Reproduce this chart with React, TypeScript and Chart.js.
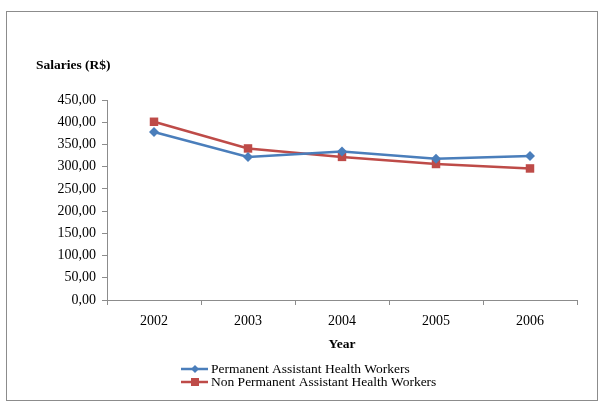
import React, { useEffect, useRef } from "react";
import { Chart, registerables } from "chart.js";

Chart.register(...registerables);

const years = ["2002", "2003", "2004", "2005", "2006"];
const permanent = [378, 322, 334, 318, 324];
const nonPermanent = [401, 341, 322, 306, 296];
const seriesNames = ["Permanent Assistant Health Workers", "Non Permanent Assistant Health Workers"];
const yTitle = "Salaries (R$)";
const xTitle = "Year";

const BLUE = "#4A7EBB";
const RED = "#BE4B48";
const FONT = "'Liberation Serif', 'Times New Roman', serif";

const decorPlugin = {
  id: "decor",
  beforeDraw(chart: any) {
    const ctx = chart.ctx;
    ctx.save();
    ctx.fillStyle = "#fff";
    ctx.fillRect(0, 0, chart.width, chart.height);
    ctx.strokeStyle = "#8c8c8c";
    ctx.lineWidth = 1;
    ctx.strokeRect(6.5, 11.5, 591, 389);
    ctx.restore();
  },
  afterDraw(chart: any) {
    const ctx = chart.ctx;
    const area = chart.chartArea;
    ctx.save();
    ctx.fillStyle = "#000";
    ctx.font = `bold 13.5px ${FONT}`;
    ctx.textBaseline = "middle";
    ctx.textAlign = "left";
    ctx.fillText(yTitle, 36, 66);
    ctx.textAlign = "center";
    ctx.fillText(xTitle, (area.left + area.right) / 2, 345);
    const items = [
      { name: seriesNames[0], color: BLUE, style: "diamond" },
      { name: seriesNames[1], color: RED, style: "square" },
    ];
    items.forEach((it, i) => {
      const y = 369 + i * 13;
      ctx.strokeStyle = it.color;
      ctx.lineWidth = 2.5;
      ctx.beginPath();
      ctx.moveTo(181, y);
      ctx.lineTo(208, y);
      ctx.stroke();
      ctx.fillStyle = it.color;
      if (it.style === "diamond") {
        ctx.beginPath();
        ctx.moveTo(195, y - 4);
        ctx.lineTo(199, y);
        ctx.lineTo(195, y + 4);
        ctx.lineTo(191, y);
        ctx.closePath();
        ctx.fill();
      } else {
        ctx.fillRect(191, y - 4, 8, 8);
      }
      ctx.fillStyle = "#000";
      ctx.font = `13.5px ${FONT}`;
      ctx.textAlign = "left";
      ctx.fillText(it.name, 211, y);
    });
    ctx.restore();
  },
};

export default function App() {
  const ref = useRef<HTMLCanvasElement>(null);
  useEffect(() => {
    if (!ref.current) return;
    const chart = new Chart(ref.current, {
      type: "line",
      data: {
        labels: years,
        datasets: [
          {
            label: seriesNames[0],
            data: permanent,
            borderColor: BLUE,
            backgroundColor: BLUE,
            borderWidth: 2.5,
            pointStyle: "rectRot",
            pointRadius: 5,
            pointBorderWidth: 0,
            tension: 0,
          },
          {
            label: seriesNames[1],
            data: nonPermanent,
            borderColor: RED,
            backgroundColor: RED,
            borderWidth: 2.5,
            pointStyle: "rect",
            pointRadius: 6,
            pointBorderWidth: 0,
            tension: 0,
          },
        ],
      },
      options: {
        animation: false,
        responsive: false,
        maintainAspectRatio: false,
        layout: { padding: { left: 0, top: 100, right: 23, bottom: 76 } },
        plugins: { legend: { display: false }, tooltip: { enabled: false } },
        scales: {
          x: {
            type: "category",
            offset: true,
            afterFit: (s: any) => { s.height = 30; },
            grid: {
              offset: true,
              drawOnChartArea: false,
              drawTicks: true,
              tickLength: 5,
              color: "#8c8c8c",
            },
            border: { color: "#8c8c8c", width: 1 },
            ticks: {
              color: "#000",
              font: { family: FONT, size: 14 },
              padding: 8,
              maxRotation: 0,
            },
          },
          y: {
            min: 0,
            max: 450,
            afterFit: (s: any) => { s.width = 107; },
            grid: {
              drawOnChartArea: false,
              drawTicks: true,
              tickLength: 5,
              color: "#8c8c8c",
            },
            border: { color: "#8c8c8c", width: 1 },
            ticks: {
              stepSize: 50,
              color: "#000",
              font: { family: FONT, size: 14 },
              padding: 6,
              callback: (v: any) => Number(v).toFixed(2).replace(".", ","),
            },
          },
        },
      },
      plugins: [decorPlugin],
    } as any);
    return () => chart.destroy();
  }, []);
  return (
    <div style={{ position: "fixed", left: 0, top: 0, width: 600, height: 406, background: "#fff" }}>
      <canvas ref={ref} width={600} height={406} style={{ display: "block", width: 600, height: 406 }} />
    </div>
  );
}
